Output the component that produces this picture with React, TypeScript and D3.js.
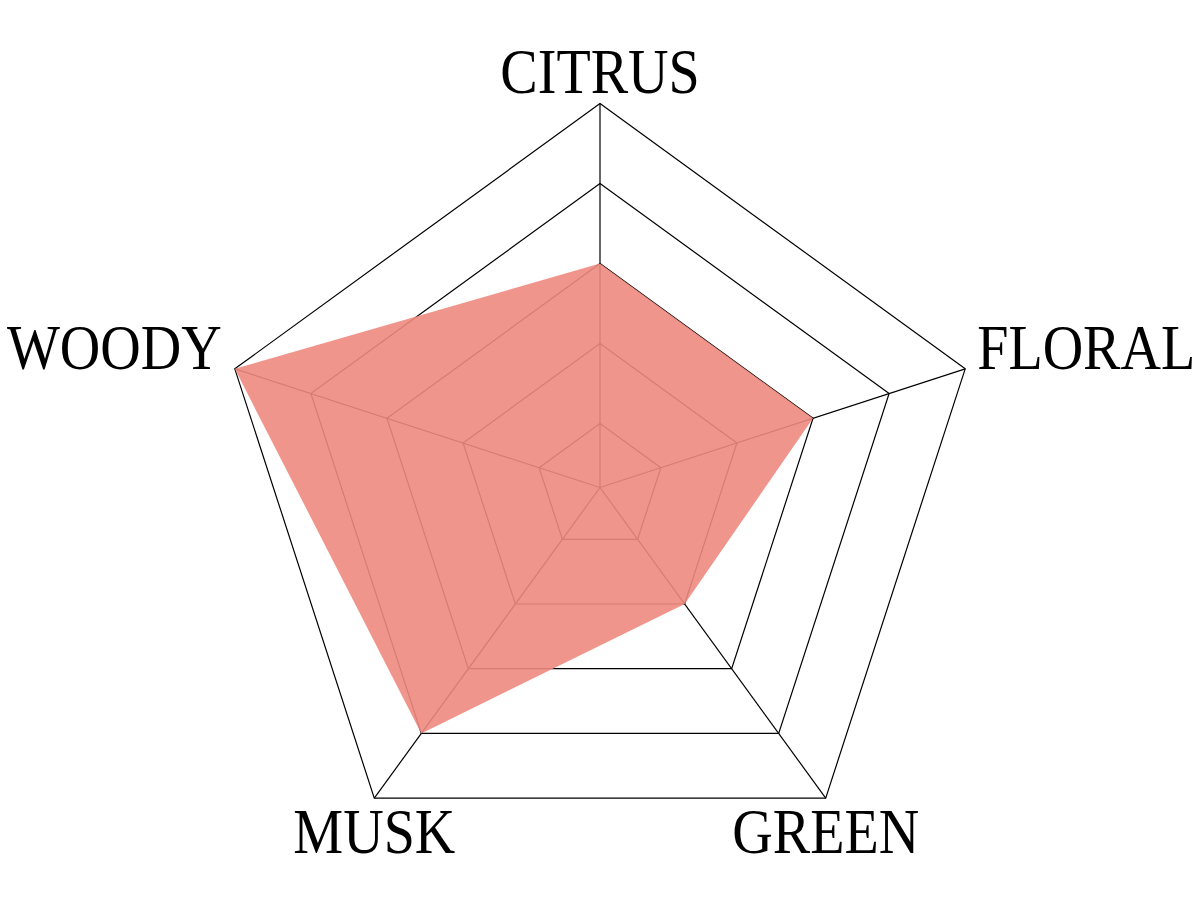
import React, { useEffect, useRef } from "react"
import * as d3 from "d3"

// axes, clockwise from the top
const categories = ["CITRUS", "FLORAL", "GREEN", "MUSK", "WOODY"]
const values = [3, 3, 2, 4, 5]
const levels = [1, 2, 3, 4, 5]

const WIDTH = 1200
const HEIGHT = 900

export default function App() {
  const ref = useRef<SVGSVGElement>(null)

  useEffect(() => {
    if (!ref.current) return
    const svg = d3.select(ref.current)
    svg.selectAll("*").remove()

    const cx = 600
    const cy = 487.5
    const n = categories.length

    // level 1 sits a little way out from the centre
    const r = d3.scaleLinear().domain([1, 5]).range([64, 384])
    const angle = (i: number) => -Math.PI / 2 + (i * 2 * Math.PI) / n
    const pt = (i: number, v: number): [number, number] => [
      cx + r(v) * Math.cos(angle(i)),
      cy + r(v) * Math.sin(angle(i)),
    ]

    const line = d3.line<[number, number]>().curve(d3.curveLinearClosed)
    const outer = d3.max(levels)!

    const grid = svg.append("g").attr("class", "grid")

    grid
      .selectAll("path.ring")
      .data(levels)
      .enter()
      .append("path")
      .attr("class", "ring")
      .attr("d", (lv) => line(categories.map((_, i) => pt(i, lv))))
      .attr("fill", "none")
      .attr("stroke", "#000")
      .attr("stroke-width", 1.2)

    grid
      .selectAll("line.spoke")
      .data(categories)
      .enter()
      .append("line")
      .attr("class", "spoke")
      .attr("x1", cx)
      .attr("y1", cy)
      .attr("x2", (_, i) => pt(i, outer)[0])
      .attr("y2", (_, i) => pt(i, outer)[1])
      .attr("stroke", "#000")
      .attr("stroke-width", 1.2)

    svg
      .append("path")
      .attr("d", line(values.map((v, i) => pt(i, v))))
      .attr("fill", "rgb(238,137,128)")
      .attr("fill-opacity", 0.9)

    // labels placed around the outer vertices
    const labelPos = (i: number) => {
      const [x, y] = pt(i, outer)
      const c = Math.cos(angle(i))
      const s = Math.sin(angle(i))
      if (s < -0.9) return { x, y: y - 11, anchor: "middle" }
      if (s > 0.5) return { x, y: y + 55, anchor: "middle" }
      if (c > 0) return { x: x + 12, y, anchor: "start" }
      return { x: x - 13, y, anchor: "end" }
    }

    svg
      .append("g")
      .selectAll("text")
      .data(categories)
      .enter()
      .append("text")
      .attr("transform", (_, i) => {
        const p = labelPos(i)
        return `translate(${p.x},${p.y}) scale(0.89,1)`
      })
      .attr("text-anchor", (_, i) => labelPos(i).anchor)
      .attr("font-family", "'Liberation Serif', 'DejaVu Serif', serif")
      .attr("font-size", 63)
      .attr("fill", "#000")
      .text((d) => d)
  }, [])

  return (
    <svg
      ref={ref}
      width={WIDTH}
      height={HEIGHT}
      style={{ position: "absolute", left: 0, top: 0, background: "#fff" }}
    />
  )
}
